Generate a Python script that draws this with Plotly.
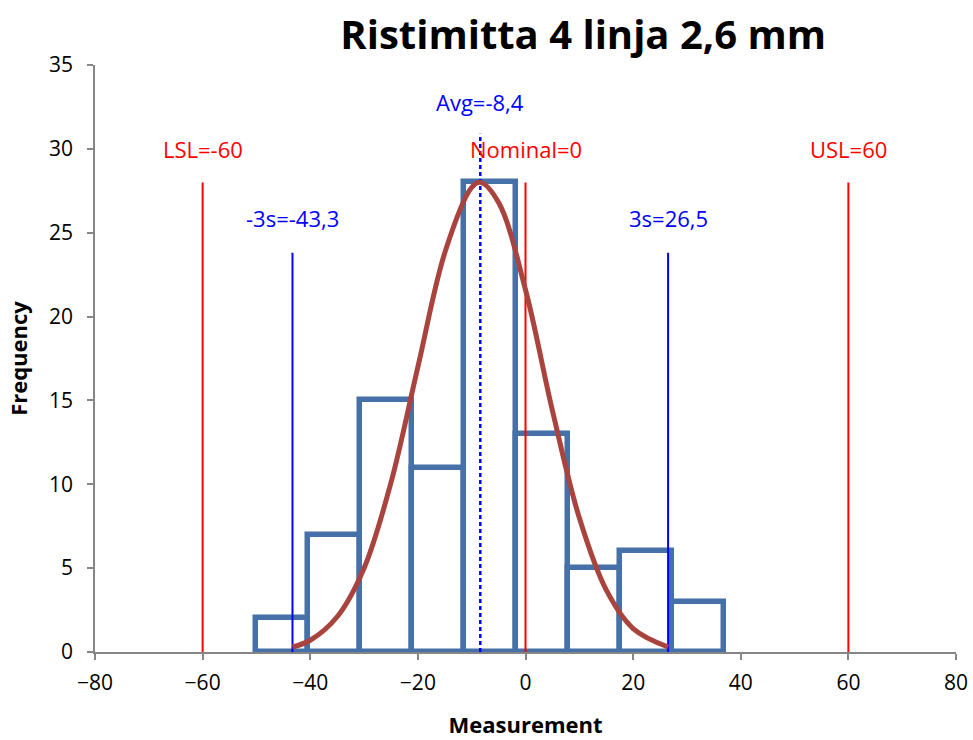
import plotly.graph_objects as go

# Histogram bins (edges) and counts
bin_edges = [-50.1, -40.4, -30.8, -21.1, -11.4, -1.8, 7.9, 17.6, 27.2, 36.9]
counts = [2, 7, 15, 11, 28, 13, 5, 6, 3]

# Fitted normal curve, sampled points
curve_x = [-43.3, -40, -35, -30, -25, -20, -15, -10, -8.4, -5, 0, 5, 10, 15, 20, 26.5]
curve_y = [0.3, 0.7, 2.1, 5.0, 10.1, 17.0, 23.8, 27.7, 28.0, 26.8, 21.6, 14.4, 8.0, 3.7, 1.4, 0.3]

# Reference lines: position, line top, label, label height, colour, dash
ref_x = [-60, 60, 0, -43.3, 26.5, -8.4]
ref_top = [28, 28, 28, 23.8, 23.8, 30.9]
ref_labels = ["LSL=-60", "USL=60", "Nominal=0", "-3s=-43,3", "3s=26,5", "Avg=-8,4"]
ref_label_y = [30.0, 30.0, 30.0, 25.9, 25.9, 32.8]
ref_colors = ["#ff0000", "#ff0000", "#ff0000", "#0000ff", "#0000ff", "#0000ff"]
ref_dash = ["solid", "solid", "solid", "solid", "solid", "4px,3px"]

FONT = "Open Sans"
bar_centers = [(a + b) / 2 for a, b in zip(bin_edges[:-1], bin_edges[1:])]
bar_widths = [b - a for a, b in zip(bin_edges[:-1], bin_edges[1:])]

fig = go.Figure()

fig.add_trace(go.Bar(
    x=bar_centers, y=counts, width=bar_widths,
    marker=dict(color="rgba(0,0,0,0)", line=dict(color="#4571a8", width=5.5)),
    showlegend=False, hoverinfo="x+y",
))

for x, top, col, dash in zip(ref_x, ref_top, ref_colors, ref_dash):
    fig.add_trace(go.Scatter(
        x=[x, x], y=[0, top], mode="lines",
        line=dict(color=col, width=2.5 if dash != "solid" else 2, dash=dash),
        showlegend=False, hoverinfo="skip",
    ))

fig.add_trace(go.Scatter(
    x=curve_x, y=curve_y, mode="lines",
    line=dict(color="#a8433d", width=5, shape="spline", smoothing=1.0),
    showlegend=False,
))

for x, y, txt, col in zip(ref_x, ref_label_y, ref_labels, ref_colors):
    fig.add_annotation(x=x, y=y, text=txt, showarrow=False,
                       font=dict(family=FONT, size=22, color=col),
                       xanchor="center", yanchor="middle")

axis_common = dict(
    showline=True, linecolor="#868686", linewidth=1.5,
    ticks="outside", ticklen=6, tickcolor="#868686", tickwidth=1.5,
    showgrid=False, zeroline=False, automargin=False,
    tickfont=dict(family=FONT, size=21, color="#000000"),
)

fig.update_layout(
    width=973, height=740,
    margin=dict(l=95, r=17, t=65, b=88),
    plot_bgcolor="white", paper_bgcolor="white",
    title=dict(text="<b>Ristimitta 4 linja 2,6 mm</b>", x=0.567, xref="paper",
               xanchor="center", y=0.953, yref="container", yanchor="middle",
               font=dict(family=FONT, size=40, color="#000000")),
    xaxis=dict(range=[-80, 80], dtick=20, tick0=-80, ticklabelstandoff=5,
               title=dict(text="<b>Measurement</b>", standoff=23,
                          font=dict(family=FONT, size=22, color="#000000")),
               **axis_common),
    yaxis=dict(range=[0, 35], dtick=5, ticklabelstandoff=10,
               title=dict(text="<b>Frequency</b>", standoff=15,
                          font=dict(family=FONT, size=22, color="#000000")),
               **axis_common),
    bargap=0,
)

fig.write_html("out.html")
